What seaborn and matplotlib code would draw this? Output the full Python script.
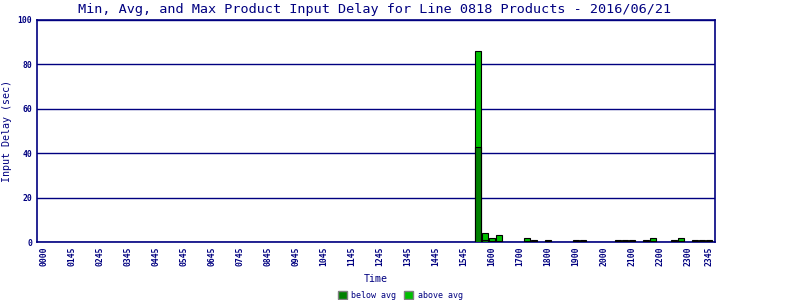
import matplotlib
matplotlib.use("Agg")
import matplotlib.pyplot as plt
import seaborn as sns
import pandas as pd
import numpy as np
from matplotlib.patches import Patch

# 15-minute slots across the day (categories)
slots = [f"{h:02d}{m:02d}" for h in range(24) for m in (0, 15, 30, 45)]

# Slots that have data, with below-avg and above-avg portions (sec)
bar_slots = ["1530", "1545", "1600", "1615", "1715", "1730", "1800", "1900", "1915",
             "2030", "2045", "2100", "2130", "2145", "2230", "2245", "2315", "2330", "2345"]
below_avg = [43, 1.0, 0.5, 0.6, 0.5, 0.3, 0.3, 0.3, 0.3,
             0.3, 0.3, 0.3, 0.3, 0.6, 0.3, 0.6, 0.3, 0.3, 0.3]
above_avg = [43, 3.0, 1.4, 2.6, 1.2, 0.5, 0.5, 0.5, 0.5,
             0.5, 0.5, 0.5, 0.5, 1.2, 0.5, 1.2, 0.5, 0.5, 0.5]

tick_labels = ["0000", "0145", "0245", "0345", "0445", "0545", "0645", "0745", "0845",
               "0945", "1045", "1145", "1245", "1345", "1445", "1545", "1600", "1700",
               "1800", "1900", "2000", "2100", "2200", "2300", "2345"]
tick_slots = list(range(0, 96, 4)) + [95]

title = "Min, Avg, and Max Product Input Delay for Line 0818 Products - 2016/06/21"

NAVY = "#000080"
DARK = "#008000"
LIGHT = "#00C000"

df = pd.DataFrame({"slot": bar_slots, "below": below_avg, "above": above_avg})
df["total"] = df["below"] + df["above"]

sns.set_theme(style="white")
plt.rcParams["font.family"] = ["DejaVu Sans Mono", "DejaVu Sans"]

fig = plt.figure(figsize=(8, 3), dpi=100)
ax = fig.add_axes([36.5 / 800, 1 - 242 / 300, (715 - 36.5) / 800, 222 / 300])

sns.barplot(data=df, x="slot", y="total", order=slots, color=LIGHT, saturation=1,
            edgecolor="black", linewidth=0.8, width=0.78, ax=ax, zorder=3)
sns.barplot(data=df, x="slot", y="below", order=slots, color=DARK, saturation=1,
            edgecolor="black", linewidth=0.8, width=0.78, ax=ax, zorder=4)

ax.set_xlim(-1.05, 95.85)
ax.set_ylim(0, 100)
ax.set_yticks([0, 20, 40, 60, 80, 100])
ax.set_yticklabels(["0", "20", "40", "60", "80", "100"], fontsize=5.8, color=NAVY,
                   fontweight="bold")
ax.set_xticks(tick_slots)
ax.set_xticklabels(tick_labels, rotation=90, fontsize=5.8, color=NAVY, fontweight="bold")
ax.tick_params(axis="both", length=0, pad=3)
ax.yaxis.grid(True, color=NAVY, linewidth=1)
ax.xaxis.grid(False)
ax.set_axisbelow(True)
for s in ax.spines.values():
    s.set_visible(True)
    s.set_color(NAVY)
    s.set_linewidth(1.2)

ax.set_xlabel("Time", fontsize=7.2, color=NAVY, labelpad=6)
ax.set_ylabel("Input Delay (sec)", fontsize=7.2, color=NAVY, labelpad=4)
fig.text(375 / 800, 1 - 10 / 300, title, ha="center", va="center", fontsize=9.7, color=NAVY)

handles = [Patch(facecolor=DARK, edgecolor="#808080", label="below avg"),
           Patch(facecolor=LIGHT, edgecolor="#808080", label="above avg")]
leg = fig.legend(handles=handles, loc="center", bbox_to_anchor=(400 / 800, 1 - 295 / 300),
                 ncol=2, frameon=False, fontsize=6, handlelength=1.1, handleheight=1.1,
                 handletextpad=0.5, columnspacing=1.0, borderpad=0)
for t in leg.get_texts():
    t.set_color(NAVY)

fig.savefig("out.png", dpi=100)
